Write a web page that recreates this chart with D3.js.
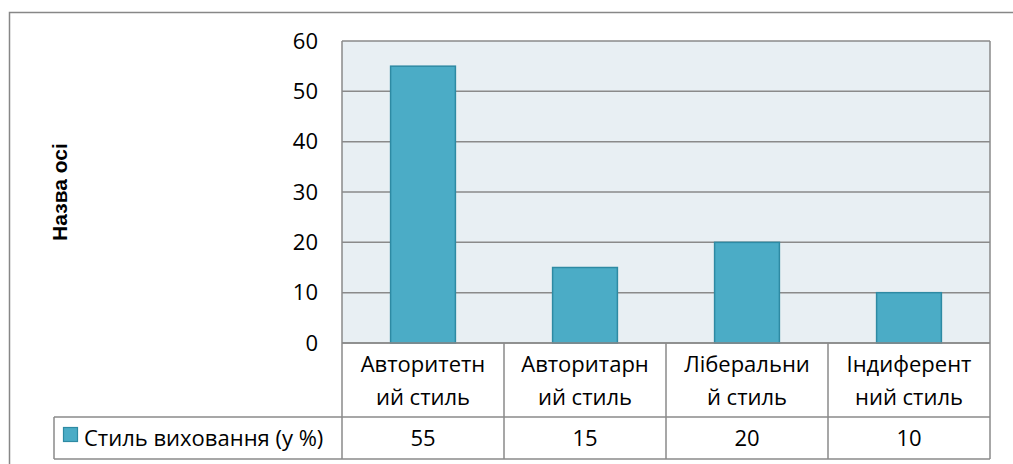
<!DOCTYPE html>
<html>
<head>
<meta charset="utf-8">
<script src="https://cdn.jsdelivr.net/npm/d3@7"></script>
<style>
  body { margin: 0; background: #fff; }
  svg { display: block; }
</style>
</head>
<body>
<div id="chart"></div>
<script>
// data
const categories = [
  ['Авторитетн', 'ий стиль'],
  ['Авторитарн', 'ий стиль'],
  ['Ліберальни', 'й стиль'],
  ['Індиферент', 'ний стиль'],
];
const values = [55, 15, 20, 10];
const seriesName = 'Стиль виховання (у %)';
const yTicks = [0, 10, 20, 30, 40, 50, 60];
const axisTitle = 'Назва осі';

const width = 1013, height = 464;
const font = "'Open Sans', 'Noto Sans', sans-serif";
const fs = 22;
const plot = { left: 342, top: 41, right: 990, bottom: 343 };
const rowCat = 417, rowVal = 459, legendLeft = 54;

const svg = d3.select('#chart').append('svg')
  .attr('width', width).attr('height', height)
  .attr('font-family', font);

// outer border (chart area)
svg.append('path')
  .attr('d', `M9.5,${height + 2}V12.5H${width + 2}`)
  .attr('fill', 'none').attr('stroke', '#878787').attr('stroke-width', 1.5);

const x = d3.scaleBand()
  .domain(d3.range(values.length))
  .range([plot.left, plot.right])
  .paddingInner(0).paddingOuter(0);

const y = d3.scaleLinear().domain([0, 60]).range([plot.bottom, plot.top]);

// plot background
svg.append('rect')
  .attr('x', plot.left).attr('y', plot.top)
  .attr('width', plot.right - plot.left).attr('height', plot.bottom - plot.top)
  .attr('fill', '#e8eff3');

// gridlines
svg.append('g').selectAll('line').data(yTicks).join('line')
  .attr('x1', plot.left).attr('x2', plot.right)
  .attr('y1', d => y(d)).attr('y2', d => y(d))
  .attr('stroke', '#8a8a8a').attr('stroke-width', 1.5);

// plot area left edge
svg.append('line').attr('x1', plot.left).attr('x2', plot.left)
  .attr('y1', plot.top).attr('y2', plot.bottom)
  .attr('stroke', '#8a8a8a').attr('stroke-width', 1.5);

// y tick labels
svg.append('g').selectAll('text').data(yTicks).join('text')
  .attr('x', 318).attr('y', d => y(d))
  .attr('dy', '0.35em')
  .attr('text-anchor', 'end')
  .attr('font-size', fs).attr('fill', '#000')
  .text(d => d);

// axis title
svg.append('text')
  .attr('transform', `translate(67,192) rotate(-90)`)
  .attr('text-anchor', 'middle')
  .attr('font-family', "'Liberation Sans', Arial, sans-serif")
  .attr('font-weight', 'bold').attr('font-size', 21)
  .text(axisTitle);

// bars
const barW = x.bandwidth() * 0.4;
svg.append('g').selectAll('rect').data(values).join('rect')
  .attr('x', (d, i) => x(i) + (x.bandwidth() - barW) / 2)
  .attr('y', d => y(d))
  .attr('width', barW)
  .attr('height', d => y(0) - y(d))
  .attr('fill', '#4bacc6')
  .attr('stroke', '#2e8aa3').attr('stroke-width', 1.5);

// data table
const tbl = svg.append('g').attr('fill', 'none').attr('stroke', '#8a8a8a').attr('stroke-width', 1.5);
tbl.append('line').attr('x1', plot.left).attr('x2', plot.right).attr('y1', plot.bottom).attr('y2', plot.bottom);
tbl.append('line').attr('x1', legendLeft).attr('x2', plot.right).attr('y1', rowCat).attr('y2', rowCat);
tbl.append('line').attr('x1', legendLeft).attr('x2', plot.right).attr('y1', rowVal).attr('y2', rowVal);
tbl.append('line').attr('x1', legendLeft).attr('x2', legendLeft).attr('y1', rowCat).attr('y2', rowVal);
tbl.selectAll('line.v').data(d3.range(values.length + 1)).join('line')
  .attr('class', 'v')
  .attr('x1', i => i < values.length ? x(i) : plot.right)
  .attr('x2', i => i < values.length ? x(i) : plot.right)
  .attr('y1', plot.bottom).attr('y2', rowVal);
tbl.append('line').attr('x1', plot.right).attr('x2', plot.right).attr('y1', plot.top).attr('y2', plot.bottom);

// category labels
const cat = svg.append('g').selectAll('text').data(categories).join('text')
  .attr('x', (d, i) => x(i) + x.bandwidth() / 2)
  .attr('text-anchor', 'middle')
  .attr('font-size', fs).attr('fill', '#000');
cat.selectAll('tspan').data(d => d).join('tspan')
  .attr('x', function () { return d3.select(this.parentNode).attr('x'); })
  .attr('y', (d, j) => plot.bottom + 29 + j * 33)
  .text(d => d);

// values row
svg.append('g').selectAll('text').data(values).join('text')
  .attr('x', (d, i) => x(i) + x.bandwidth() / 2)
  .attr('y', (rowCat + rowVal) / 2)
  .attr('dy', '0.35em')
  .attr('text-anchor', 'middle')
  .attr('font-size', fs).attr('fill', '#000')
  .text(d => d);

// legend key in table
svg.append('rect')
  .attr('x', 63.5).attr('y', 427.5).attr('width', 14).attr('height', 14)
  .attr('fill', '#4bacc6').attr('stroke', '#2e8aa3').attr('stroke-width', 1.2);
svg.append('text')
  .attr('x', 84).attr('y', (rowCat + rowVal) / 2)
  .attr('dy', '0.35em')
  .attr('font-size', fs).attr('fill', '#000')
  .text(seriesName);
</script>
</body>
</html>
